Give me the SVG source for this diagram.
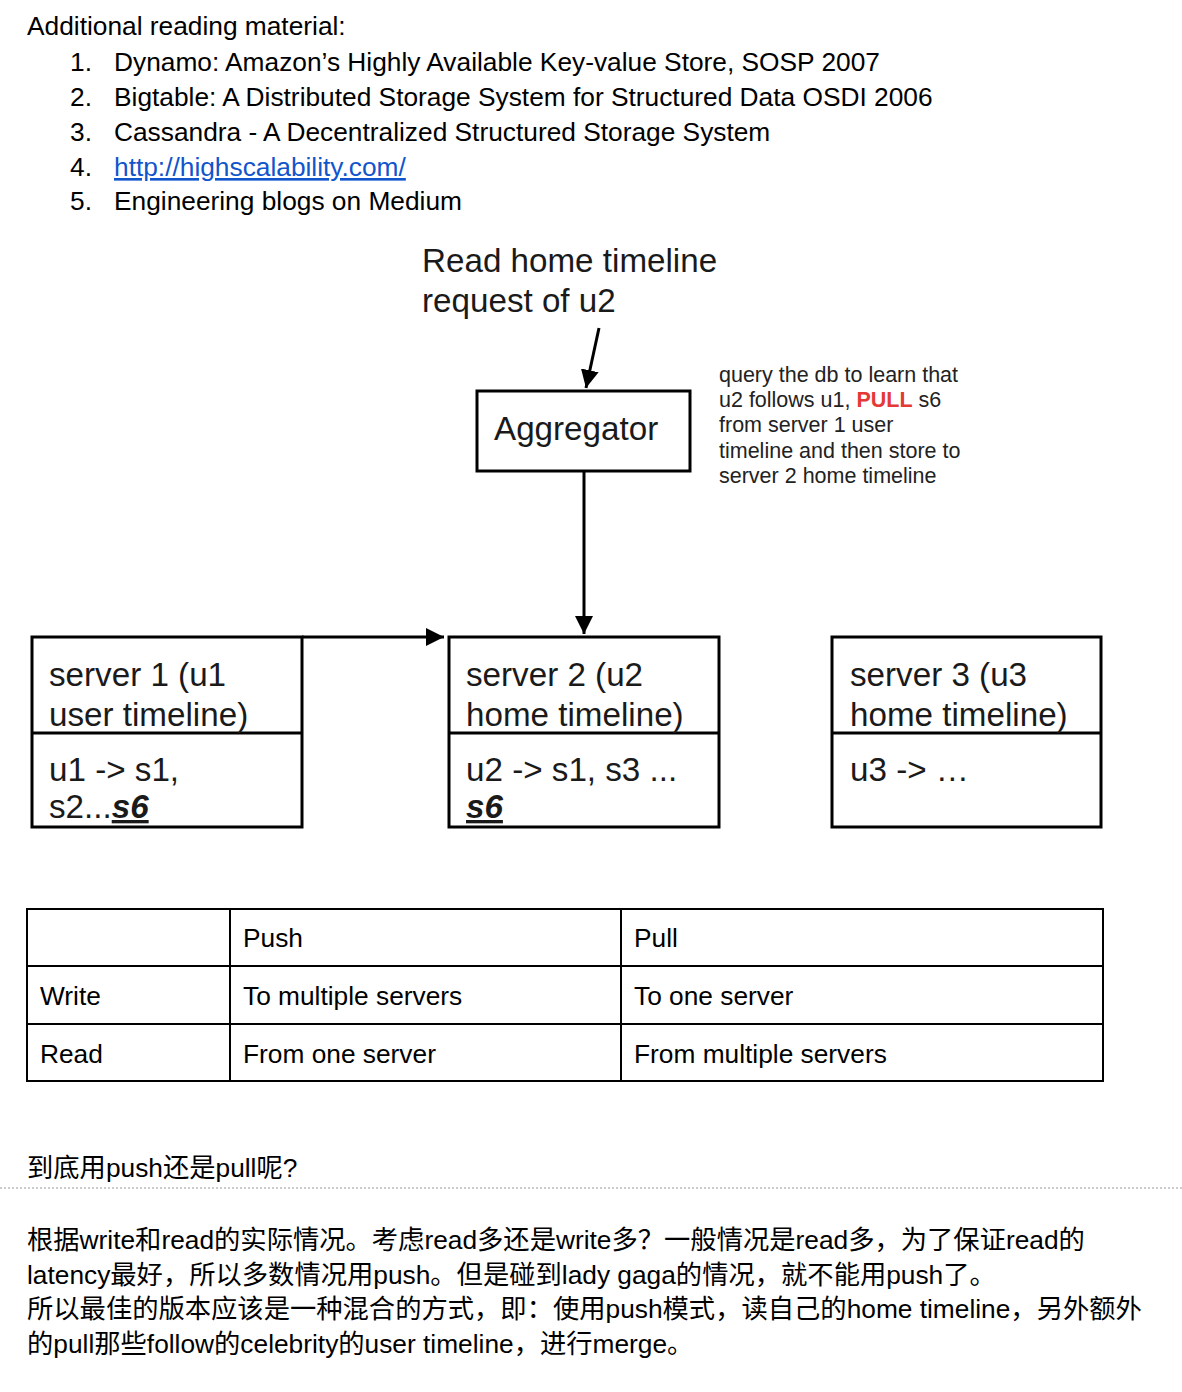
<svg xmlns="http://www.w3.org/2000/svg" width="1182" height="1392" viewBox="0 0 1182 1392">
<defs>
<style>
text{font-family:"Liberation Sans",Arial,"Noto Sans CJK SC",sans-serif;fill:#000}
.t24{font-size:26.3px}
.t32{font-size:33.2px;fill:#1a1a1a}
.note{font-size:21.5px;fill:#222}
.box{fill:#fff;stroke:#000;stroke-width:3}
.cell{fill:none;stroke:#000;stroke-width:2}
.conn{stroke:#000;stroke-width:3;fill:none}
.cjk{font-family:"Liberation Sans","Noto Sans CJK SC",sans-serif;font-size:26.3px}
</style>
<marker id="ah" viewBox="0 0 10 10" refX="10" refY="5" markerWidth="6" markerHeight="6" markerUnits="strokeWidth" orient="auto">
<path d="M0,0 L10,5 L0,10 z" fill="#000"/>
</marker>
</defs>
<rect width="1182" height="1392" fill="#fff"/>

<g id="reading-list">
<text class="t24" x="27" y="35">Additional reading material:</text>
<text class="t24" x="70" y="71">1.</text><text class="t24" x="114" y="71">Dynamo: Amazon’s Highly Available Key-value Store, SOSP 2007</text>
<text class="t24" x="70" y="106">2.</text><text class="t24" x="114" y="106">Bigtable: A Distributed Storage System for Structured Data OSDI 2006</text>
<text class="t24" x="70" y="141">3.</text><text class="t24" x="114" y="141">Cassandra - A Decentralized Structured Storage System</text>
<text class="t24" x="70" y="176">4.</text><text class="t24" x="114" y="176" style="fill:#1155cc;text-decoration:underline">http://highscalability.com/</text>
<text class="t24" x="70" y="210">5.</text><text class="t24" x="114" y="210">Engineering blogs on Medium</text>
</g>

<g id="request-label">
<text class="t32" x="422" y="272">Read home timeline</text>
<text class="t32" x="422" y="312">request of u2</text>
</g>

<g id="aggregator">
<rect class="box" x="477" y="391" width="213" height="80"/>
<text class="t32" x="494" y="440">Aggregator</text>
</g>

<g id="note">
<text class="note" x="719" y="382">query the db to learn that</text>
<text class="note" x="719" y="407">u2 follows u1, <tspan style="fill:#e53935;font-weight:bold">PULL</tspan> s6</text>
<text class="note" x="719" y="432">from server 1 user</text>
<text class="note" x="719" y="458">timeline and then store to</text>
<text class="note" x="719" y="483">server 2 home timeline</text>
</g>

<g id="server1">
<rect class="box" x="32" y="637" width="270" height="190"/>
<line class="conn" x1="32" y1="733" x2="302" y2="733"/>
<text class="t32" x="49" y="686">server 1 (u1</text>
<text class="t32" x="49" y="726">user timeline)</text>
<text class="t32" x="49" y="781">u1 -&gt; s1,</text>
<text class="t32" x="49" y="818">s2...<tspan style="font-weight:bold;font-style:italic;text-decoration:underline">s6</tspan></text>
</g>

<g id="server2">
<rect class="box" x="449" y="637" width="270" height="190"/>
<line class="conn" x1="449" y1="733" x2="719" y2="733"/>
<text class="t32" x="466" y="686">server 2 (u2</text>
<text class="t32" x="466" y="726">home timeline)</text>
<text class="t32" x="466" y="781">u2 -&gt; s1, s3 ...</text>
<text class="t32" x="466" y="818" style="font-weight:bold;font-style:italic;text-decoration:underline">s6</text>
</g>

<g id="server3">
<rect class="box" x="832" y="637" width="269" height="190"/>
<line class="conn" x1="832" y1="733" x2="1101" y2="733"/>
<text class="t32" x="850" y="686">server 3 (u3</text>
<text class="t32" x="850" y="726">home timeline)</text>
<text class="t32" x="850" y="781">u3 -&gt; …</text>
</g>

<g id="connectors">
<line class="conn" x1="599" y1="328" x2="586" y2="388" marker-end="url(#ah)"/>
<line class="conn" x1="584" y1="471" x2="584" y2="634" marker-end="url(#ah)"/>
<line class="conn" x1="302" y1="637" x2="444" y2="637" marker-end="url(#ah)"/>
</g>

<g id="table">
<rect class="cell" x="27" y="909" width="1076" height="172"/>
<line class="cell" x1="27" y1="966" x2="1103" y2="966"/>
<line class="cell" x1="27" y1="1024" x2="1103" y2="1024"/>
<line class="cell" x1="230" y1="909" x2="230" y2="1081"/>
<line class="cell" x1="621" y1="909" x2="621" y2="1081"/>
<text class="t24" x="243" y="947">Push</text>
<text class="t24" x="634" y="947">Pull</text>
<text class="t24" x="40" y="1005">Write</text>
<text class="t24" x="243" y="1005">To multiple servers</text>
<text class="t24" x="634" y="1005">To one server</text>
<text class="t24" x="40" y="1063">Read</text>
<text class="t24" x="243" y="1063">From one server</text>
<text class="t24" x="634" y="1063">From multiple servers</text>
</g>

<g id="discussion">
<text class="cjk" x="27" y="1177">到底用push还是pull呢?</text>
<line x1="0" y1="1188" x2="1182" y2="1188" stroke="#999" stroke-width="1" stroke-dasharray="2,2"/>
<text class="cjk" x="27" y="1249">根据write和read的实际情况。考虑read多还是write多？一般情况是read多，为了保证read的</text>
<text class="cjk" x="27" y="1284">latency最好，所以多数情况用push。但是碰到lady gaga的情况，就不能用push了。</text>
<text class="cjk" x="27" y="1318">所以最佳的版本应该是一种混合的方式，即：使用push模式，读自己的home timeline，另外额外</text>
<text class="cjk" x="27" y="1353">的pull那些follow的celebrity的user timeline，进行merge。</text>
</g>
</svg>
